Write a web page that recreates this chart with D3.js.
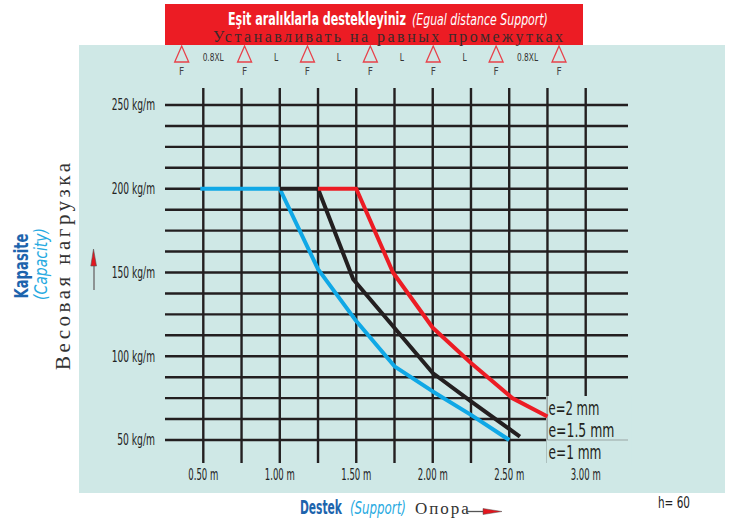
<!DOCTYPE html>
<html>
<head>
<meta charset="utf-8">
<script src="https://cdn.jsdelivr.net/npm/d3@7"></script>
<style>
  body { margin: 0; background: #fff; }
  svg { display: block; }
  .narrow { font-family: "Liberation Sans Narrow", "DejaVu Sans Condensed", "Arial Narrow", sans-serif; }
  .serif { font-family: "Liberation Serif", "DejaVu Serif", serif; }
</style>
</head>
<body>
<svg id="chart" width="730" height="519"></svg>
<script>
//* Data
const spanTicks = [0.5, 1.0, 1.5, 2.0, 2.5, 3.0];
const spanTickLabels = ["0.50 m", "1.00 m", "1.50 m", "2.00 m", "2.50 m", "3.00 m"];
const capTicks = [50, 100, 150, 200, 250];
const capTickLabels = ["50 kg/m", "100 kg/m", "150 kg/m", "200 kg/m", "250 kg/m"];
const supportLabels = ["0.8XL", "L", "L", "L", "L", "0.8XL"];

// [span m, capacity kg/m]
const e1 = [[0.48, 200], [1.0, 200], [1.25, 152], [1.5, 121], [1.75, 94], [2.0, 79], [2.25, 65], [2.5, 50]];
const e15 = [[1.0, 200], [1.25, 200], [1.48, 146], [2.0, 90], [2.25, 73], [2.57, 52]];
const e2 = [[1.25, 200], [1.5, 200], [1.74, 150], [2.0, 117], [2.25, 96], [2.52, 75], [2.75, 64]];

const seriesNames = ["e=2 mm", "e=1.5 mm", "e=1 mm"];
const seriesColors = { "e=1 mm": "#10a8e6", "e=1.5 mm": "#231f20", "e=2 mm": "#ec1c24" };

//* Chart area
const svg = d3.select("#chart");
const teal = "#cfe8e6";
const gridColor = "#231f20";

// squeeze a text horizontally to the condensed width of the original
function squeeze(sel, px, py, w, rot = 0) {
  const natural = sel.node().getComputedTextLength();
  const k = w / natural;
  sel.attr("transform", `translate(${px},${py}) rotate(${rot}) scale(${k},1)`);
}

svg.append("rect")
  .attr("x", 79).attr("y", 45)
  .attr("width", 646).attr("height", 448)
  .attr("fill", teal);

const x = d3.scaleLinear().domain([0.5, 3.0]).range([203.3, 585.7]);
const y = d3.scaleLinear().domain([50, 250]).range([440, 105]);

//* Grid
const grid = svg.append("g");
grid.selectAll(".vline")
  .data(d3.range(0.5, 3.001, 0.25))
  .enter().append("line")
  .attr("class", "vline")
  .attr("x1", d => x(d)).attr("x2", d => x(d))
  .attr("y1", 88).attr("y2", 463)
  .attr("stroke", gridColor).attr("stroke-width", 2.4);

grid.selectAll(".hline")
  .data(d3.range(50, 250.001, 12.5))
  .enter().append("line")
  .attr("class", "hline")
  .attr("x1", 165).attr("x2", 628)
  .attr("y1", d => y(d)).attr("y2", d => y(d))
  .attr("stroke", gridColor).attr("stroke-width", 2.4);

// box for the thickness labels
svg.append("rect")
  .attr("x", x(2.75) - 1.2).attr("y", 396)
  .attr("width", 85).attr("height", 70)
  .attr("fill", teal);
svg.append("line")
  .attr("x1", x(2.75)).attr("x2", x(2.75))
  .attr("y1", 396).attr("y2", y(50))
  .attr("stroke", "#9aa5a4").attr("stroke-width", 1);
svg.append("line")
  .attr("x1", x(2.75)).attr("x2", 628)
  .attr("y1", y(50)).attr("y2", y(50))
  .attr("stroke", "#9aa5a4").attr("stroke-width", 1);

//* Axis tick labels
svg.selectAll(".ylab")
  .data(capTicks)
  .enter().append("text")
  .attr("class", "ylab narrow")
  .attr("x", 155)
  .attr("y", d => y(d))
  .attr("dy", "0.35em")
  .attr("text-anchor", "end")
  .attr("font-size", "15px")
  .attr("fill", "#222")
  .attr("textLength", (d, i) => capTickLabels[i].length * 5.4)
  .attr("lengthAdjust", "spacingAndGlyphs")
  .text((d, i) => capTickLabels[i]);

svg.selectAll(".xlab")
  .data(spanTicks)
  .enter().append("text")
  .attr("class", "xlab narrow")
  .attr("x", d => x(d))
  .attr("y", 480)
  .attr("text-anchor", "middle")
  .attr("font-size", "15px")
  .attr("fill", "#222")
  .attr("textLength", 30)
  .attr("lengthAdjust", "spacingAndGlyphs")
  .text((d, i) => spanTickLabels[i]);

//* Curves
const line = d3.line().x(d => x(d[0])).y(d => y(d[1]));
const series = [["e=1 mm", e1], ["e=1.5 mm", e15], ["e=2 mm", e2]];
svg.selectAll(".curve")
  .data(series)
  .enter().append("path")
  .attr("class", "curve")
  .attr("d", d => line(d[1]))
  .attr("fill", "none")
  .attr("stroke", d => seriesColors[d[0]])
  .attr("stroke-width", 4)
  .attr("stroke-linejoin", "round");

const eWidths = [51, 66, 53];
svg.selectAll(".elab")
  .data(seriesNames)
  .enter().append("text")
  .attr("class", "elab narrow")
  .attr("font-size", "19px")
  .attr("fill", "#231f20")
  .text(d => d)
  .each(function (d, i) { squeeze(d3.select(this), x(2.75) + 1, 415 + i * 22, eWidths[i]); });

//* Top banner
svg.append("rect")
  .attr("x", 165).attr("y", 4)
  .attr("width", 418).attr("height", 41)
  .attr("fill", "#ec1c24");

svg.append("text")
  .attr("class", "narrow")
  .attr("fill", "#fff")
  .attr("font-size", "18px").attr("font-weight", "bold")
  .text("Eşit aralıklarla destekleyiniz")
  .call(squeeze, 228, 25, 178);
svg.append("text")
  .attr("class", "narrow")
  .attr("fill", "#fff")
  .attr("font-size", "15px").attr("font-style", "italic")
  .text("(Egual  distance Support)")
  .call(squeeze, 412, 25, 136);

svg.append("text")
  .attr("class", "serif")
  .attr("x", 213).attr("y", 42)
  .attr("font-size", "16px")
  .attr("fill", "#3a2a2a")
  .attr("textLength", 350)
  .attr("lengthAdjust", "spacing")
  .text("Устанавливать на равных промежутках");

//* Support symbols
const sx = d3.scalePoint().domain(d3.range(supportLabels.length + 1)).range([181.7, 559]);
const supports = svg.append("g");
supports.selectAll(".tri")
  .data(sx.domain())
  .enter().append("path")
  .attr("class", "tri")
  .attr("d", d => `M${sx(d)},46 L${sx(d) - 7},62 L${sx(d) + 7},62 Z`)
  .attr("fill", "none")
  .attr("stroke", "#e8414a")
  .attr("stroke-width", 1.3);
supports.selectAll(".flab")
  .data(sx.domain())
  .enter().append("text")
  .attr("class", "narrow")
  .attr("x", d => sx(d))
  .attr("y", 75)
  .attr("text-anchor", "middle")
  .attr("font-size", "10px")
  .attr("fill", "#444")
  .text("F");
supports.selectAll(".slab")
  .data(supportLabels)
  .enter().append("text")
  .attr("class", "narrow")
  .attr("x", (d, i) => (sx(i) + sx(i + 1)) / 2)
  .attr("y", 61)
  .attr("text-anchor", "middle")
  .attr("font-size", "11px")
  .attr("fill", "#333")
  .attr("textLength", d => d.length * 4.2)
  .attr("lengthAdjust", "spacingAndGlyphs")
  .text(d => d);

//* Axis titles
const yTitle = svg.append("g");
yTitle.append("text")
  .attr("class", "narrow")
  .attr("text-anchor", "middle")
  .attr("font-size", "19px").attr("font-weight", "bold")
  .attr("fill", "#1d64ad")
  .text("Kapasite")
  .call(squeeze, 28, 266, 65, -90);
yTitle.append("text")
  .attr("class", "narrow")
  .attr("text-anchor", "middle")
  .attr("font-size", "18px").attr("font-style", "italic")
  .attr("fill", "#27aae1")
  .text("(Capacity)")
  .call(squeeze, 47, 264, 72, -90);
yTitle.append("text")
  .attr("class", "serif")
  .attr("transform", "translate(70,370) rotate(-90)")
  .attr("font-size", "21px")
  .attr("fill", "#333")
  .attr("textLength", 207)
  .attr("lengthAdjust", "spacing")
  .text("Весовая нагрузка");
yTitle.append("line")
  .attr("x1", 94).attr("x2", 94)
  .attr("y1", 262).attr("y2", 290)
  .attr("stroke", "#777").attr("stroke-width", 1.5);
yTitle.append("path")
  .attr("d", "M93.5,249 L90.8,266 L96.5,266 Z")
  .attr("fill", "#e3161e").attr("stroke", "#555").attr("stroke-width", 0.6);

svg.append("text")
  .attr("class", "narrow")
  .attr("font-size", "19px").attr("font-weight", "bold")
  .attr("fill", "#1d64ad")
  .text("Destek")
  .call(squeeze, 300, 514, 42);
svg.append("text")
  .attr("class", "narrow")
  .attr("font-size", "18px").attr("font-style", "italic")
  .attr("fill", "#27aae1")
  .text("(Support)")
  .call(squeeze, 350, 514, 56);
svg.append("text")
  .attr("class", "serif")
  .attr("x", 415).attr("y", 514)
  .attr("font-size", "17px")
  .attr("letter-spacing", "2px")
  .attr("fill", "#333")
  .text("Опора");
svg.append("line")
  .attr("x1", 466).attr("x2", 486)
  .attr("y1", 511.5).attr("y2", 511.5)
  .attr("stroke", "#555").attr("stroke-width", 1.3);
svg.append("path")
  .attr("d", "M483,508.5 L502,511.5 L483,514.5 Z")
  .attr("fill", "#e3161e").attr("stroke", "#555").attr("stroke-width", 0.5);

svg.append("text")
  .attr("class", "narrow")
  .attr("font-size", "16px")
  .attr("fill", "#222")
  .text("h= 60")
  .call(squeeze, 658, 508, 32);
</script>
</body>
</html>
